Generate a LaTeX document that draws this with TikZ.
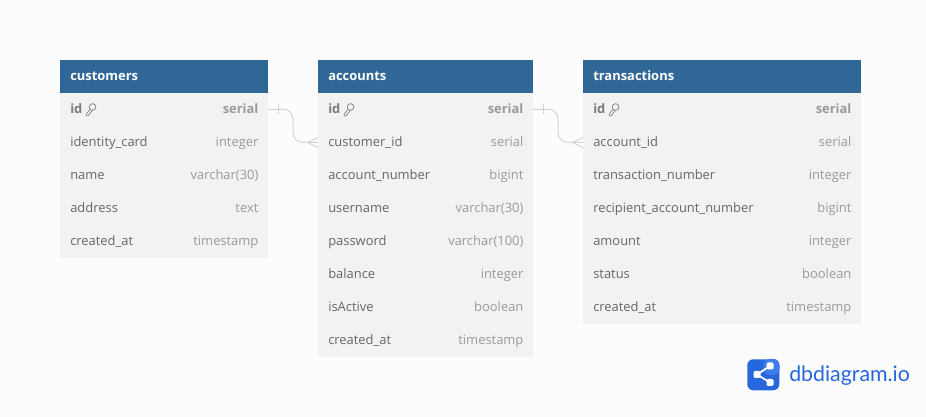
\documentclass[tikz,border=0pt]{standalone}
\usepackage{fontspec}
\setmainfont{Open Sans}
\newfontfamily\logofont{Lato}
\usetikzlibrary{calc}
\definecolor{headblue}{HTML}{2F6896}
\definecolor{rowgrey}{HTML}{F2F2F2}
\definecolor{pagegrey}{HTML}{FCFCFD}
\definecolor{nametext}{HTML}{666666}
\definecolor{typetext}{HTML}{9A9A9A}
\definecolor{idtext}{HTML}{7A7A7A}
\definecolor{relgrey}{HTML}{D4D4D4}
\definecolor{logoblue}{HTML}{2767DC}
\definecolor{logolight}{HTML}{3B7DEB}
\newcommand{\keyicon}{% key of a primary column
\tikz[baseline=-0.5pt]{
    \draw[idtext, line width=0.5pt] (1.5pt,4.6pt) circle (2.5pt);
    \draw[idtext, line width=0.5pt] (-0.3pt,2.9pt) -- (-3.4pt,-0.7pt) -- (-3.4pt,-2pt) -- (-1.9pt,-2pt) -- (1.3pt,2.1pt);
}}
\tikzset{
    px/.style={x=0.75pt, y=-0.75pt},
    tablehead/.style={fill=headblue, anchor=north west, minimum height=24.75pt, inner sep=0pt, outer sep=0pt},
    tablerow/.style={fill=rowgrey, anchor=north west, minimum height=24.75pt, inner sep=0pt, outer sep=0pt},
    colname/.style={text=nametext, font=\fontsize{9.7pt}{12pt}\selectfont, anchor=base west, inner sep=0pt, xshift=7.5pt, yshift=-3.2pt},
    coltype/.style={text=typetext, font=\fontsize{9.7pt}{12pt}\selectfont, anchor=base east, inner sep=0pt, xshift=-7pt, yshift=-3.2pt},
    headname/.style={text=white, font=\bfseries\fontsize{9.7pt}{12pt}\selectfont, anchor=base west, inner sep=0pt, xshift=7.5pt, yshift=-3.2pt},
    relline/.style={draw=relgrey, line width=0.75pt},
}
\begin{document}
\begin{tikzpicture}[px]
\useasboundingbox[fill=pagegrey] (0,0) rectangle (926,417);

% customers
\node[tablehead, minimum width=156pt] (customers) at (60,60) {};
\node[headname] (customers title) at (customers.west) {customers};
\foreach \colA/\colB [count=\i] in {id/serial, identity\_card/integer, name/varchar(30), address/text, created\_at/timestamp}{
    \node[tablerow, minimum width=156pt] (cust\i) at (60,{93+33*(\i-1)}) {};
    \ifnum\i=1
        \node[colname, text=idtext, font=\bfseries\fontsize{9.7pt}{12pt}\selectfont] (cust\i name) at (cust\i.west) {\colA\ \keyicon};
        \node[coltype, font=\bfseries\fontsize{9.7pt}{12pt}\selectfont] (cust\i type) at (cust\i.east) {\colB};
    \else
        \node[colname] (cust\i name) at (cust\i.west) {\colA};
        \node[coltype] (cust\i type) at (cust\i.east) {\colB};
    \fi
}

% accounts
\node[tablehead, minimum width=161.25pt] (accounts) at (318,60) {};
\node[headname] (accounts title) at (accounts.west) {accounts};
\foreach \colA/\colB [count=\i] in {id/serial, customer\_id/serial, account\_number/bigint, username/varchar(30), password/varchar(100), balance/integer, isActive/boolean, created\_at/timestamp}{
    \node[tablerow, minimum width=161.25pt] (acc\i) at (318,{93+33*(\i-1)}) {};
    \ifnum\i=1
        \node[colname, text=idtext, font=\bfseries\fontsize{9.7pt}{12pt}\selectfont] (acc\i name) at (acc\i.west) {\colA\ \keyicon};
        \node[coltype, font=\bfseries\fontsize{9.7pt}{12pt}\selectfont] (acc\i type) at (acc\i.east) {\colB};
    \else
        \node[colname] (acc\i name) at (acc\i.west) {\colA};
        \node[coltype] (acc\i type) at (acc\i.east) {\colB};
    \fi
}

% transactions
\node[tablehead, minimum width=208.5pt] (transactions) at (583,60) {};
\node[headname] (transactions title) at (transactions.west) {transactions};
\foreach \colA/\colB [count=\i] in {id/serial, account\_id/serial, transaction\_number/integer, recipient\_account\_number/bigint, amount/integer, status/boolean, created\_at/timestamp}{
    \node[tablerow, minimum width=208.5pt] (trans\i) at (583,{93+33*(\i-1)}) {};
    \ifnum\i=1
        \node[colname, text=idtext, font=\bfseries\fontsize{9.7pt}{12pt}\selectfont] (trans\i name) at (trans\i.west) {\colA\ \keyicon};
        \node[coltype, font=\bfseries\fontsize{9.7pt}{12pt}\selectfont] (trans\i type) at (trans\i.east) {\colB};
    \else
        \node[colname] (trans\i name) at (trans\i.west) {\colA};
        \node[coltype] (trans\i type) at (trans\i.east) {\colB};
    \fi
}

% relations
\coordinate (bendA) at (293,109);
\coordinate (bendB) at (558,109);
\draw[relline, rounded corners=7.5pt] (cust1.east) -- (bendA) |- (acc2.west);
\draw[relline, rounded corners=7.5pt] (acc1.east) -- (bendB) |- (trans2.west);
\draw[relline] ($(cust1.east)+(10.5,-5)$) -- ++(0,10);
\draw[relline] ($(acc1.east)+(10.5,-5)$) -- ++(0,10);
\draw[relline] ($(acc2.west)+(0,-5)$) -- ++(-10.5,5) -- ++(10.5,5);
\draw[relline] ($(trans2.west)+(0,-5)$) -- ++(-10.5,5) -- ++(10.5,5);

% logo
\node[fill=logoblue, rounded corners=4.5pt, minimum width=24pt, minimum height=23.25pt, inner sep=0pt, anchor=north west] (logo) at (747,359) {};
\fill[logolight, rounded corners=4.5pt] (logo.north) -| (logo.east) |- (logo.center) -- cycle;
\fill[white, rounded corners=1pt] (766.5,362.5) rectangle (773.5,369.5);
\fill[white, rounded corners=1pt] (766.5,379) rectangle (773.5,386);
\fill[white, rounded corners=1pt] (753.5,371) rectangle (760.5,378);
\draw[white, line width=1.3pt] (770,366) -- (757,374.5) -- (770,382.5);
\node[text=logoblue, font=\logofont\fontsize{16pt}{18pt}\selectfont, anchor=base west, inner sep=0pt] (brand) at (789,382) {dbdiagram.io};
\end{tikzpicture}
\end{document}
